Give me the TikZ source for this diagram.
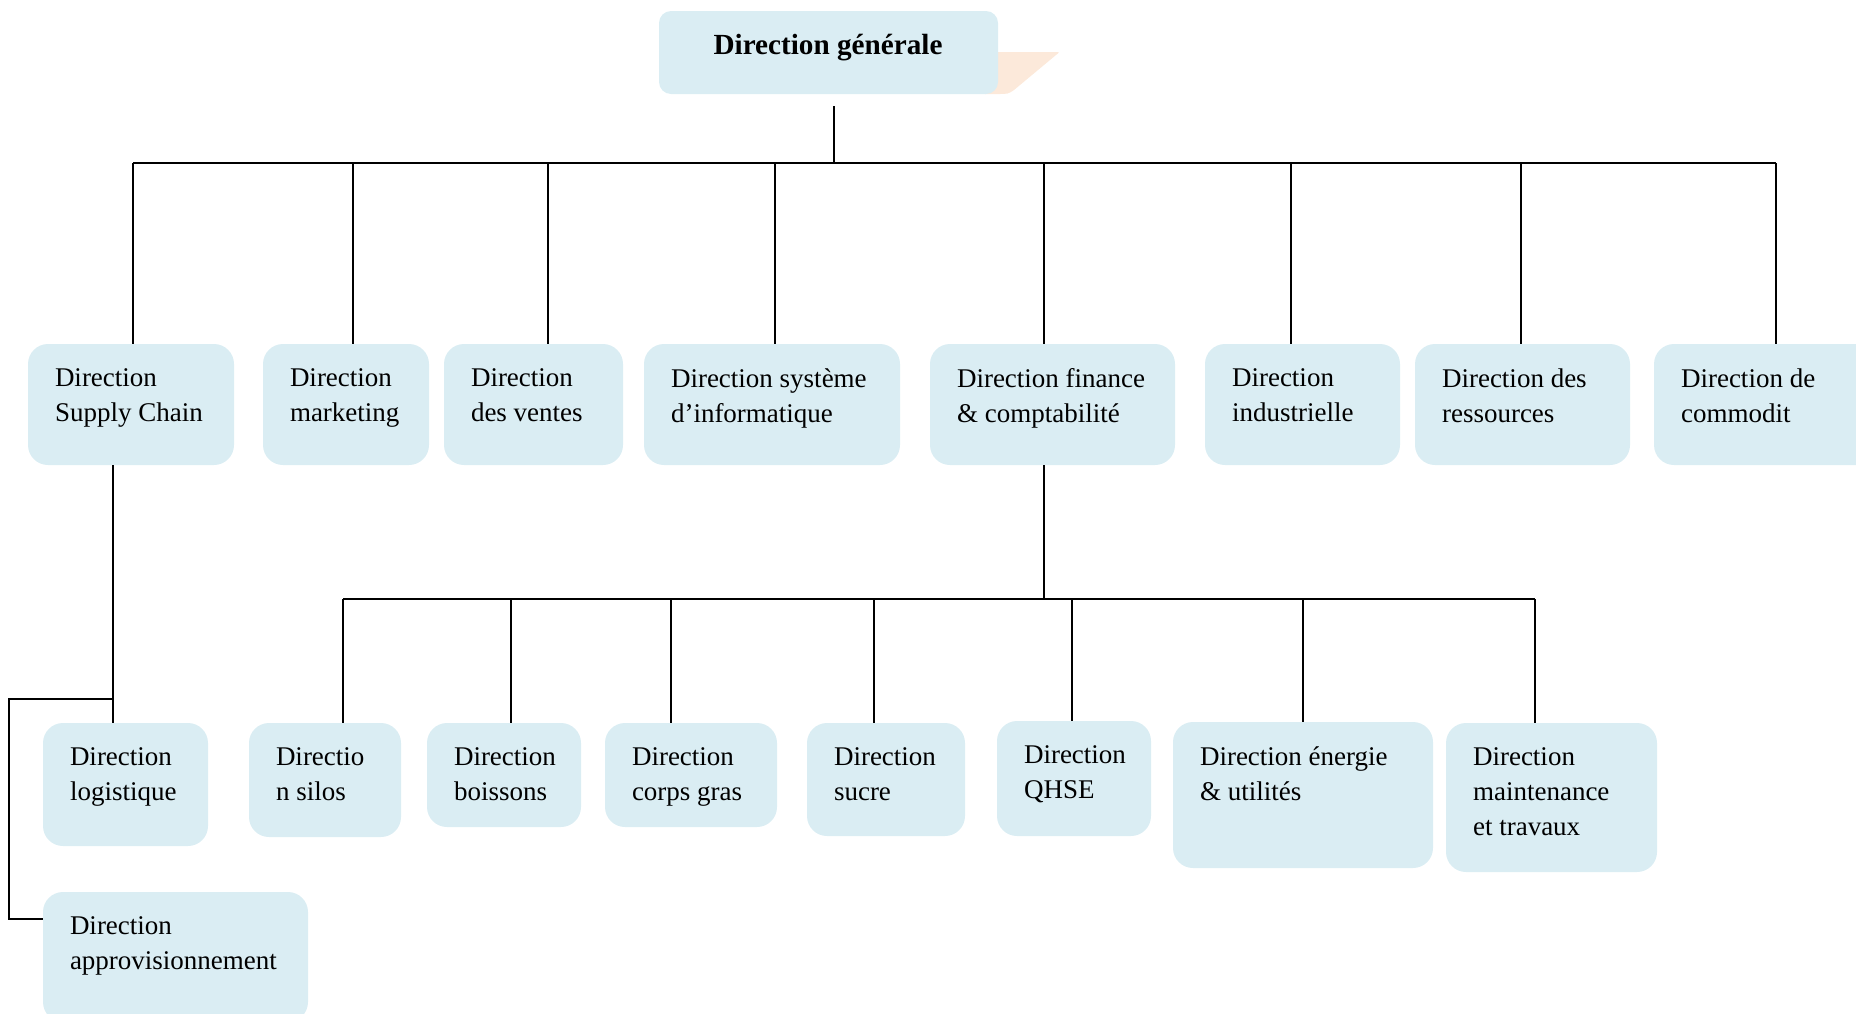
\documentclass[tikz,border=0pt]{standalone}
\usepackage{fontspec}
\setmainfont{Liberation Serif}
\definecolor{boxblue}{HTML}{DAEDF3}
\definecolor{peach}{HTML}{FCE9DA}
\tikzset{
  obox/.style={fill=boxblue, draw=none, rounded corners=10pt, inner sep=0pt, outer sep=0pt},
  olabel/.style={anchor=north west, inner sep=0pt, outer sep=0pt, align=left, font=\fontsize{13.5}{17.5}\selectfont},
  conn/.style={draw=black, line width=1pt},
}
% name, x1, x2, y1, y2, text  (pixel coordinates)
\newcommand\orgbox[6]{%
  \pgfmathsetmacro\obw{(#3-#2)*0.5}%
  \pgfmathsetmacro\obh{(#5-#4)*0.5}%
  \node[obox, minimum width=\obw pt, minimum height=\obh pt] (#1) at ({(#2+#3)/2},{(#4+#5)/2}) {};
  \node[olabel] (#1-t) at ([xshift=13.5pt, yshift=-12.3pt]#1.north west) {#6};
}
\begin{document}
\begin{tikzpicture}[x=0.5pt, y=-0.5pt]
\useasboundingbox (0,0) rectangle (1856,1013);
\clip (0,0) rectangle (1856,1013);

% top box with peach shape behind
\fill[peach] (985,52) -- (1054,52) .. controls (1060,52) .. (1056,55) -- (1014,90) .. controls (1008,94) .. (998,94) -- (985,94) -- cycle;
\node[obox, rounded corners=6pt, minimum width=169.5pt, minimum height=41.5pt] (dg) at (828.5,52.5) {};
\node[anchor=base, inner sep=0pt, font=\fontsize{14.6}{17}\selectfont\bfseries] (dg-t) at (828,54) {Direction générale};

% level 1
\orgbox{sc}{28}{234}{344}{465}{Direction\\Supply Chain}
\orgbox{mk}{263}{429}{344}{465}{Direction\\marketing}
\orgbox{vt}{444}{623}{344}{465}{Direction\\des ventes}
\orgbox{si}{644}{900}{344}{465}{Direction système\\d’informatique}
\orgbox{fi}{930}{1175}{344}{465}{Direction finance\\\& comptabilité}
\orgbox{ind}{1205}{1400}{344}{465}{Direction\\industrielle}
\orgbox{rs}{1415}{1630}{344}{465}{Direction des\\ressources}
\orgbox{cm}{1654}{1890}{344}{465}{Direction de\\commodit}

% level 2 (finance)
\orgbox{sl}{249}{401}{723}{837}{Directio\\n silos}
\orgbox{bo}{427}{581}{723}{827}{Direction\\boissons}
\orgbox{cg}{605}{777}{723}{827}{Direction\\corps gras}
\orgbox{su}{807}{965}{723}{836}{Direction\\sucre}
\orgbox{qh}{997}{1151}{721}{836}{Direction\\QHSE}
\orgbox{en}{1173}{1433}{722}{868}{Direction énergie\\\& utilités}
\orgbox{mt}{1446}{1657}{723}{872}{Direction\\maintenance\\et travaux}

% level 2 (supply chain)
\orgbox{lg}{43}{208}{723}{846}{Direction\\logistique}
\orgbox{ap}{43}{308}{892}{1022}{Direction\\approvisionnement}

% bus coordinates
\coordinate (bus1) at (0,163);
\coordinate (bus2) at (0,599);
\coordinate (d-dg) at (834,106);
\coordinate (b-sc) at (133,163);
\coordinate (b-mk) at (353,163);
\coordinate (b-vt) at (548,163);
\coordinate (b-si) at (775,163);
\coordinate (b-fi) at (1044,163);
\coordinate (b-in) at (1291,163);
\coordinate (b-rs) at (1521,163);
\coordinate (b-cm) at (1776,163);

\coordinate (u-fi) at (1044,465);
\coordinate (c-sl) at (343,599);
\coordinate (c-bo) at (511,599);
\coordinate (c-cg) at (671,599);
\coordinate (c-su) at (874,599);
\coordinate (c-qh) at (1072,599);
\coordinate (c-en) at (1303,599);
\coordinate (c-mt) at (1535,599);

\coordinate (u-sc) at (113,465);
\coordinate (j-sc) at (113,699);
\coordinate (k-sc) at (9,699);

% connectors: top level
\draw[conn] (d-dg) -- (d-dg |- bus1);
\draw[conn] (b-sc) -- (b-cm);
\foreach \b/\n in {b-sc/sc, b-mk/mk, b-vt/vt, b-si/si, b-fi/fi, b-in/ind, b-rs/rs, b-cm/cm}
  \draw[conn] (\b) -- (\b |- \n.north);

% finance subtree
\draw[conn] (u-fi) -- (u-fi |- bus2);
\draw[conn] (c-sl) -- (c-mt);
\foreach \c/\n in {c-sl/sl, c-bo/bo, c-cg/cg, c-su/su, c-qh/qh, c-en/en, c-mt/mt}
  \draw[conn] (\c) -- (\c |- \n.north);

% supply chain subtree
\draw[conn] (u-sc) -- (u-sc |- lg.north);
\draw[conn] (j-sc) -- (k-sc) |- ([yshift=19pt]ap.west);
\end{tikzpicture}
\end{document}
